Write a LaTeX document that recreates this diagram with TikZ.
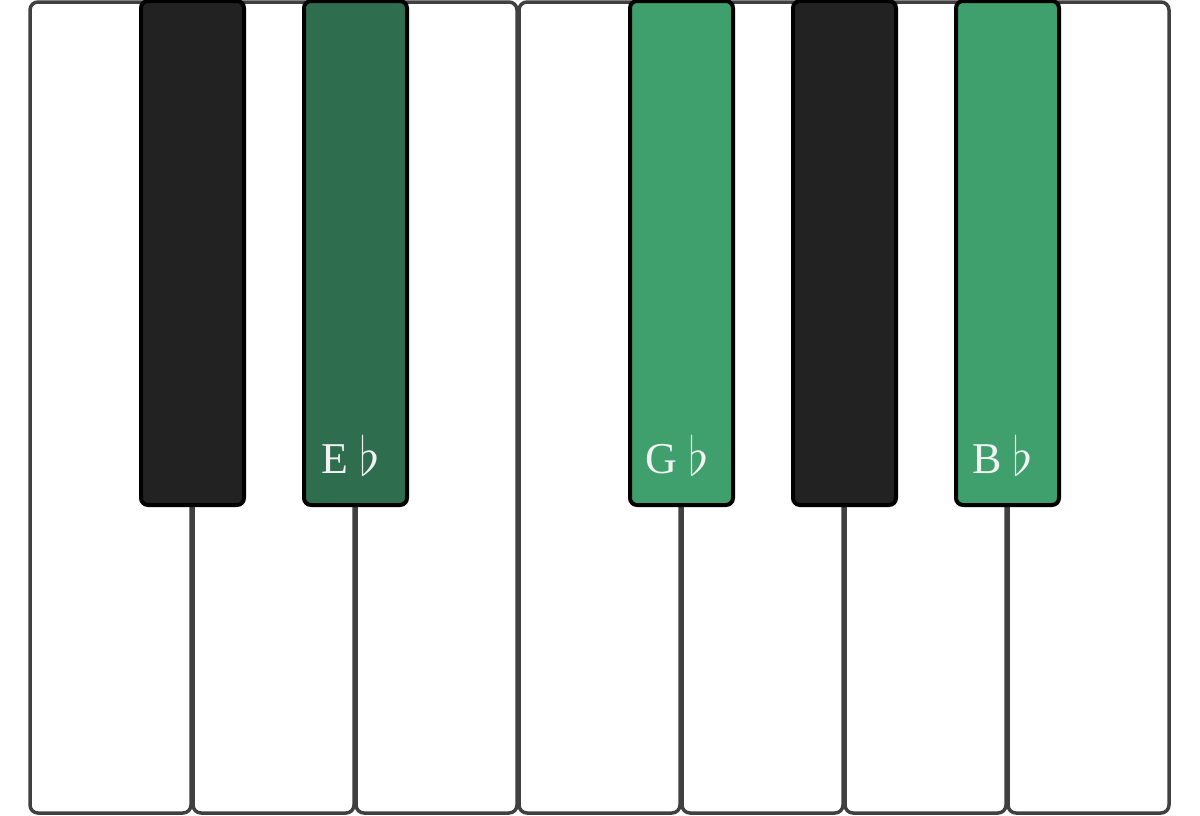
\documentclass[tikz,border=0pt]{standalone}
\usepackage{fontspec}
\setmainfont{Liberation Serif}
\newcommand{\bigflat}{\raisebox{-0.1ex}{\scalebox{1.3}{$\flat$}}}
\begin{document}
\begin{tikzpicture}[x=0.5pt,y=-0.5pt,
  whitekey/.style={draw=keyedge,fill=white,line width=1.75pt,rounded corners=4pt},
  blackkey/.style={draw=black,line width=2pt,rounded corners=3.5pt},
  keylabel/.style={text=labeltext,font=\fontsize{22}{26}\selectfont,anchor=center}]
\definecolor{keyedge}{HTML}{404040}
\definecolor{keyblack}{HTML}{222222}
\definecolor{darkgreen}{HTML}{2E6E4F}
\definecolor{midgreen}{HTML}{3F9F6D}
\definecolor{labeltext}{HTML}{F2F2F2}
\useasboundingbox (0,0) rectangle (1200,815);
\fill[white] (0,0) rectangle (1200,815);
% white keys
\foreach \i in {0,...,6}{
  \draw[whitekey] ({30+163*\i},2) rectangle ({30+163*\i+161},813);
}
% black keys
\draw[blackkey,fill=keyblack] (141,1) rectangle (244,505);
\draw[blackkey,fill=darkgreen] (304,1) rectangle (407,505);
\draw[blackkey,fill=midgreen] (630,1) rectangle (733,505);
\draw[blackkey,fill=keyblack] (793,1) rectangle (896,505);
\draw[blackkey,fill=midgreen] (956,1) rectangle (1059,505);
% labels
\node[keylabel] (eb) at (351,455) {E \bigflat};
\node[keylabel] (gb) at (677,455) {G \bigflat};
\node[keylabel] (bb) at (1003,455) {B \bigflat};
\end{tikzpicture}
\end{document}
